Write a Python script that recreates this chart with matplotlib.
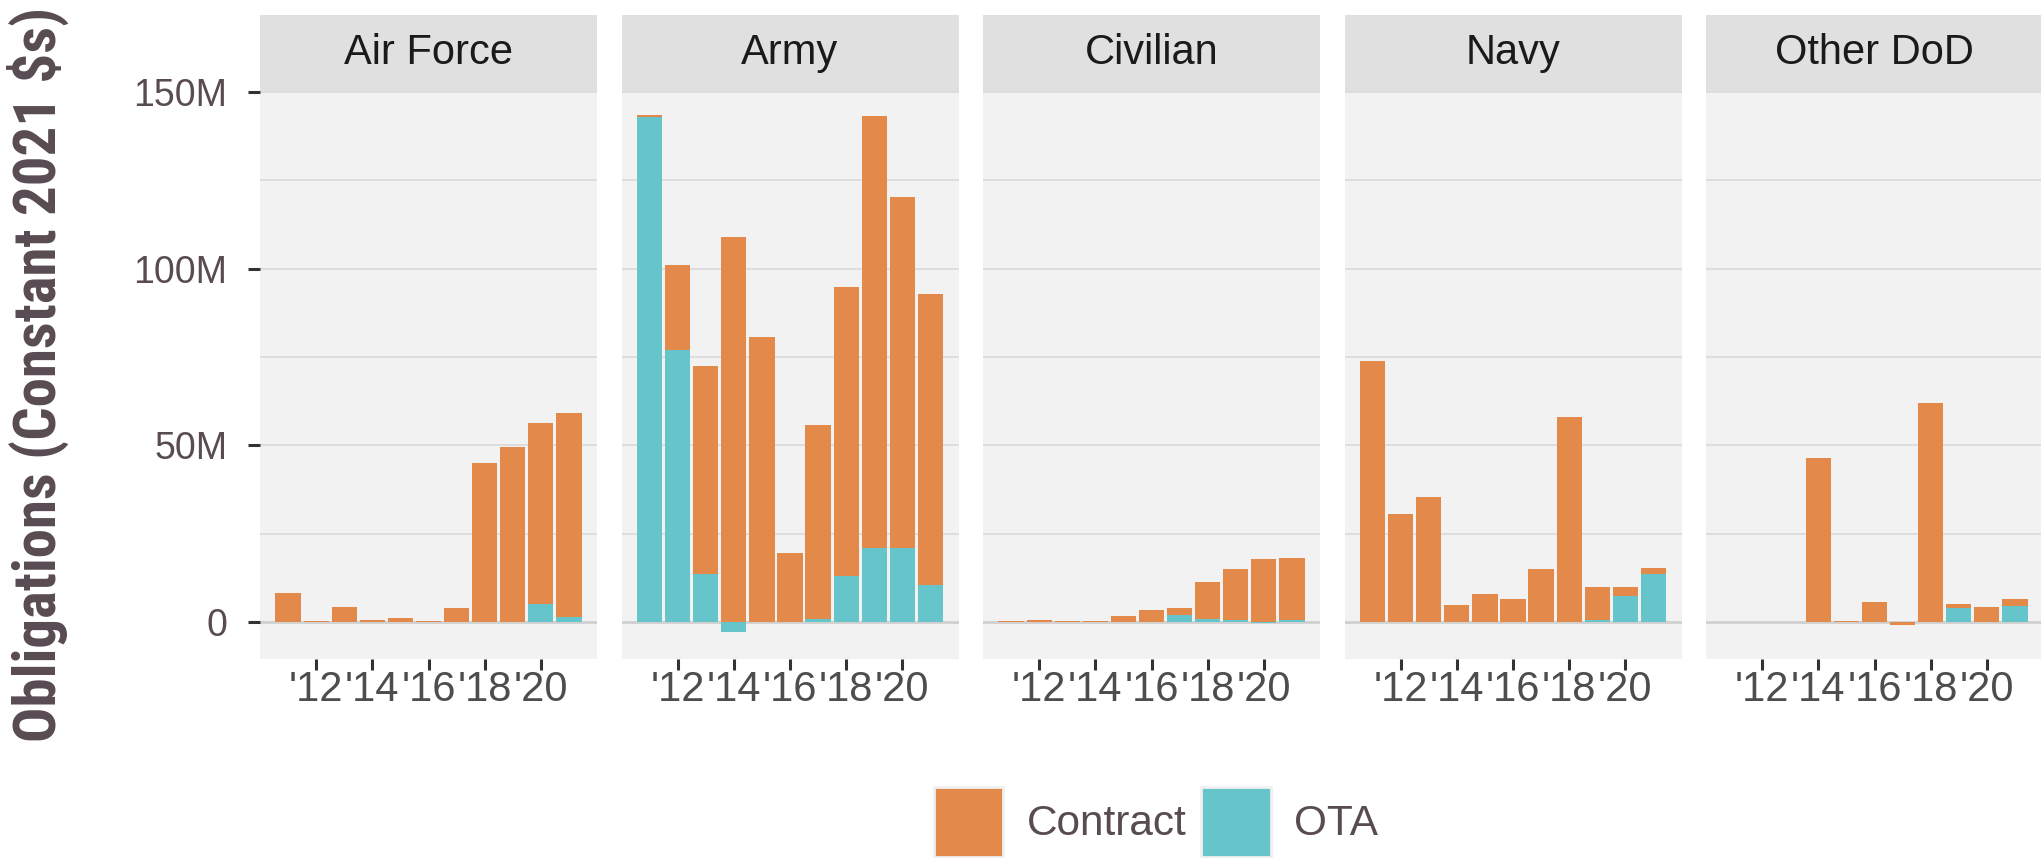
import numpy as np
import matplotlib
matplotlib.use("Agg")
import matplotlib.pyplot as plt
from matplotlib.patches import Rectangle, Patch
from matplotlib import font_manager

# data (millions of constant 2021 $), FY2011-2021
years = np.arange(2011, 2022)
customers = ["Air Force", "Army", "Civilian", "Navy", "Other DoD"]
tick_years = [2012, 2014, 2016, 2018, 2020]
tick_labels = ["'12", "'14", "'16", "'18", "'20"]

af_contract = [8.1, 0.3, 4.3, 0.4, 1.2, 0.15, 4.0, 45.0, 49.5, 51.1, 57.9]
af_ota = [0, 0, 0, 0, 0, 0, 0, 0, 0, 5.2, 1.3]
army_contract = [0.7, 24.1, 58.8, 109.1, 80.7, 19.4, 54.9, 81.9, 122.2, 99.5, 82.3]
army_ota = [142.8, 77.0, 13.7, -2.9, 0, 0, 0.9, 13.0, 20.9, 20.9, 10.4]
civ_contract = [0.15, 0.4, 0.15, 0.15, 1.8, 3.5, 1.8, 10.3, 14.2, 17.7, 17.6]
civ_ota = [0, 0, 0, 0, 0, 0, 2.0, 0.9, 0.65, -0.4, 0.4]
navy_contract = [73.9, 30.5, 35.3, 4.7, 7.8, 6.4, 14.9, 58.0, 9.4, 2.8, 1.7]
navy_ota = [0, 0, 0, 0, 0, 0, 0, 0, 0.4, 7.2, 13.7]
odod_contract = [0, 0, 0, 46.4, 0.25, 5.5, -0.8, 62.0, 1.4, 4.3, 2.2]
odod_ota = [0, 0, 0, 0, 0, 0, 0, 0, 3.8, 0, 4.4]

contract = [af_contract, army_contract, civ_contract, navy_contract, odod_contract]
ota = [af_ota, army_ota, civ_ota, navy_ota, odod_ota]

c_contract = "#E3894A"
c_ota = "#66C5CB"
txt_col = "#584b51"

plt.rcParams["font.family"] = ["Liberation Sans", "DejaVu Sans"]

names = {f.name for f in font_manager.fontManager.ttflist}
cond = "Liberation Sans"
for cand in ["Roboto Condensed", "Liberation Sans Narrow", "Open Sans Condensed", "DejaVu Sans Condensed"]:
    if cand in names:
        cond = cand
        break

W, H = 2041, 858
fig = plt.figure(figsize=(W / 100, H / 100), dpi=100)

p_top, p_bot = 91, 659
strip_h = 76
axes = []
for i, name in enumerate(customers):
    left = 260 + i * 361.5
    ax = fig.add_axes([left / W, (H - p_bot) / H, 337 / W, (p_bot - p_top) / H])
    ax.set_facecolor("#f2f2f2")
    for s in ax.spines.values():
        s.set_visible(False)
    for g in [25, 50, 75, 100, 125, 150]:
        ax.axhline(g, color="#d9d9d9", lw=1.2, zorder=0)
    ax.axhline(0, color="#d0d0d0", lw=2.0, zorder=0)

    ct = np.array(contract[i], dtype=float)
    ot = np.array(ota[i], dtype=float)
    ax.bar(years, ot, width=0.9, color=c_ota, zorder=2, linewidth=0)
    c_bottom = np.where(ct >= 0, np.maximum(ot, 0), np.minimum(ot, 0))
    ax.bar(years, ct, bottom=c_bottom, width=0.9, color=c_contract, zorder=2, linewidth=0)

    ax.set_xlim(2010.0, 2022.0)
    ax.set_ylim(-10.5, 150.3)
    ax.set_xticks(tick_years)
    ax.set_xticklabels(tick_labels)
    ax.tick_params(axis="x", length=8, width=2.2, color="#333333", labelsize=30,
                   labelcolor="#4d4d4d", pad=0)
    ax.set_yticks([0, 50, 100, 150])
    if i == 0:
        ax.set_yticklabels(["0", "50M", "100M", "150M"])
        ax.tick_params(axis="y", length=8.5, width=2.2, color="#333333", labelsize=27,
                       labelcolor=txt_col, pad=15)
    else:
        ax.tick_params(axis="y", length=0, labelleft=False)

    # facet strip
    ax.add_patch(Rectangle((0, 1), 1, strip_h / (p_bot - p_top), transform=ax.transAxes,
                           facecolor="#e0e0e0", edgecolor="none", clip_on=False, zorder=1))
    ax.text(0.5, 1 + strip_h / 2 / (p_bot - p_top), name, transform=ax.transAxes,
            ha="center", va="center", fontsize=30, color="#1a1a1a")
    axes.append(ax)

# y axis title, sized to span the panel height like the reference
ylab = fig.text(38 / W, (H - 375) / H, "Obligations (Constant 2021 $s)", rotation=90,
                ha="center", va="center", fontsize=40, fontweight="bold",
                color=txt_col, family=cond)
fig.canvas.draw()
ext = ylab.get_window_extent()
ylab.set_fontsize(40 * 734 / ext.height)

handles = [Patch(facecolor=c_contract, edgecolor="#f0f0f0", linewidth=2),
           Patch(facecolor=c_ota, edgecolor="#f0f0f0", linewidth=2)]
fig.legend(handles, ["Contract", "OTA"], loc="center", bbox_to_anchor=(1156 / W, 36 / H),
           ncol=2, frameon=False, fontsize=30.5, labelcolor=txt_col,
           handlelength=1.65, handleheight=2.2, handletextpad=0.55,
           columnspacing=0.35, borderpad=0)

fig.savefig("out.png", dpi=100, facecolor="white")
